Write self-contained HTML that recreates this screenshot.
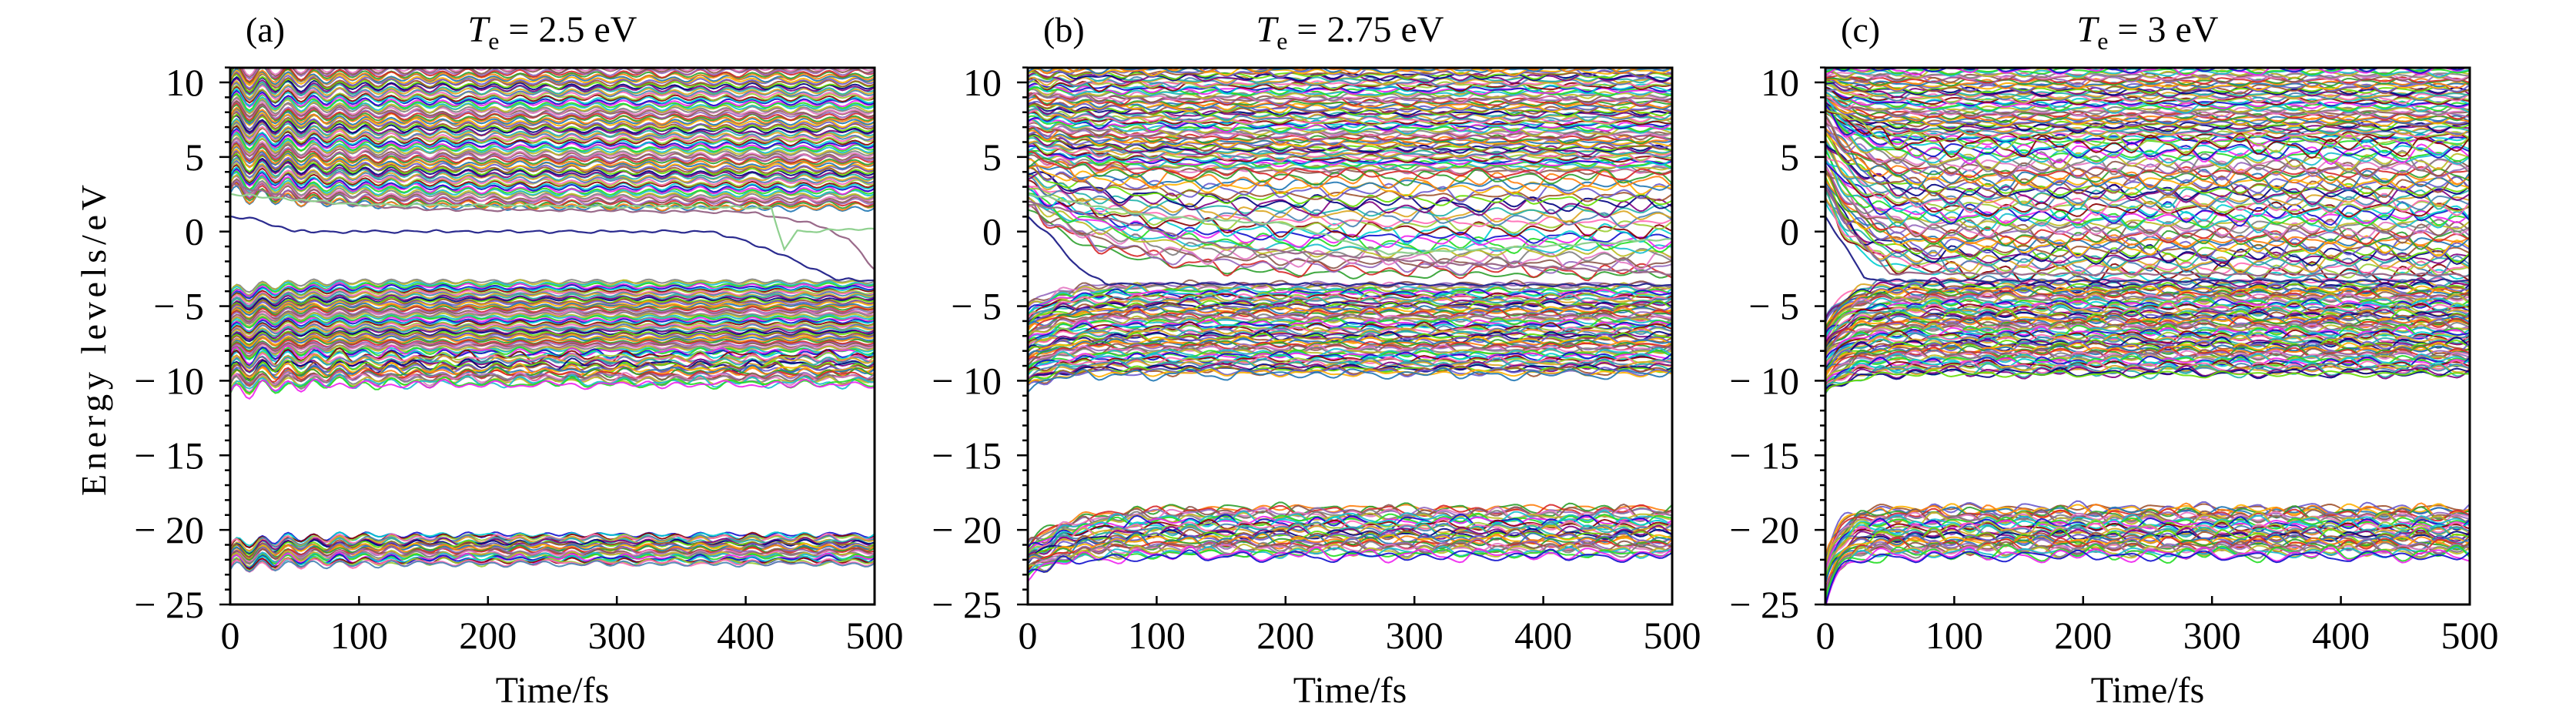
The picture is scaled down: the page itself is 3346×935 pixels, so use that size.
<!DOCTYPE html>
<html><head><meta charset="utf-8"><style>
body{margin:0;background:#fff}svg{display:block}
text{font-family:"Liberation Serif",serif;fill:#000}
</style></head><body>
<svg id="fig" width="3346" height="935" viewBox="0 0 3346 935" xmlns="http://www.w3.org/2000/svg"></svg>
<script>
// ---- data ----
const panelLabels = ["(a)","(b)","(c)"];
const panelTemps = ["2.5","2.75","3"];
const xTicks = [0,100,200,300,400,500];
const yTicks = [10,5,0,-5,-10,-15,-20,-25];
// bands: [finalLo, finalHi, startLo, startHi, count, tau, noiseAmp, oscAmp]
const bandsA = [[1.5,11,2.5,11,85,80,0.12,0.45],[-3.3,-8,-4,-8.5,55,30,0.1,0.3],[-8,-10.3,-8.3,-10.8,28,30,0.3,0.4],[-20.3,-22.3,-21,-22.6,32,40,0.2,0.35]];
const bandsB = [[4,11,5,11,75,40,0.3,0.15],[-3,4,1.5,5,28,60,0.6,0.1],[-3.5,-9.6,-5,-10.5,75,20,0.35,0.1],[-18.5,-21.8,-21,-23,38,30,0.5,0.1]];
const bandsC = [[6,11,8,11,55,20,0.35,0.05],[-3,6,2,9,55,25,0.7,0.05],[-3.3,-9.6,-6,-11,85,15,0.45,0.05],[-18.5,-21.8,-22,-25,42,10,0.55,0.05]];
const specialA = [[[0,1],[20,0.8],[50,0],[370,0],[400,-0.6],[440,-2],[470,-3.2],[500,-3.3]],[[0,3.2],[60,2],[150,1.5],[400,1.3],[450,0.6],[480,-0.5],[500,-2.5]],[[0,2.5],[100,1.8],[420,1.6],[430,-1.2],[440,0],[500,0.2]]];
const specialB = [[[0,1],[20,-0.5],[40,-2.5],[60,-3.5],[500,-3.6]],[[0,2],[80,0.5],[150,-1],[300,-2],[500,-2.8]],[[0,2.5],[100,1],[200,0.5],[280,-1.5],[500,-0.5]]];
const specialC = [[[0,1],[15,-1],[30,-3],[40,-3.3],[500,-3.3]],[[0,3],[20,0],[50,-2.8],[500,-2.9]]];
const noise = [0.2,-0.5,0.8,0.1,-0.7,0.4,-0.2,0.9,-0.6,0.3,0.0,-0.9,0.5,-0.3,0.7,-0.1,-0.8,0.6,0.2,-0.4,0.9,-0.5,0.1,0.4,-0.7,0.3,-0.2,0.8,-0.6,0.0,0.5,-0.9,0.2,0.6,-0.3,-0.8,0.7,-0.1,0.4,-0.5];
const wave = [0,0.7,1,0.7,0,-0.7,-1,-0.7];
const palette = ['#1f77b4','#ff7f0e','#2ca02c','#d62728','#9467bd','#8c564b','#e377c2','#7f7f7f','#bcbd22','#17becf','#22dd22','#ee22ee','#1010cd','#00ced1','#8b0000','#9acd32','#ff69b4','#4682b4','#daa520','#20b2aa','#800080','#000080','#66dd00','#a0522d','#6a5acd','#ffb000'];

const NS="http://www.w3.org/2000/svg";
const svg=document.getElementById('fig');
function mk(tag,attrs,parent){const e=document.createElementNS(NS,tag);for(const k in attrs)e.setAttribute(k,attrs[k]);(parent||svg).appendChild(e);return e;}
const L0=299,W=837,PITCH=1036,TOP=88,BOT=785;
function xs(p,t){return L0+p*PITCH+t/500*W;}
function ys(v){return 107+(10-v)*(678/35);}
function nz(u){const n=noise.length;const i=Math.floor(u);const f=u-i;const a=noise[((i%n)+n)%n],b=noise[(((i+1)%n)+n)%n];const s=f*f*(3-2*f);return a+(b-a)*s;}
function interp(pts,t){for(let i=1;i<pts.length;i++){if(t<=pts[i][0]){const [t0,v0]=pts[i-1],[t1,v1]=pts[i];return v0+(v1-v0)*(t-t0)/(t1-t0);}}return pts[pts.length-1][1];}

const allBands=[bandsA,bandsB,bandsC], allSpecial=[specialA,specialB,specialC];
for(let p=0;p<3;p++){
  const g=mk('g',{});
  
  
  mk('clipPath',{id:'clip'+p},g);
  mk('rect',{x:xs(p,0),y:TOP,width:W,height:BOT-TOP},g.lastChild);
  const lines=mk('g',{'clip-path':'url(#clip'+p+')'},g);
  
  
  let ci=p*5;
  allBands[p].forEach((b,bi)=>{
    const [fl,fh,sl,sh,n,tau,na,oa]=b;
    for(let i=0;i<n;i++){
      const fr=(i+0.5)/n;const fin=fl+(fh-fl)*fr, st=sl+(sh-sl)*fr;
      const ph=(i*7+bi*13)%noise.length; const na2=na*(0.6+0.8*((i*5)%7)/7);
      let d='';
      for(let k=0;k<=200;k++){const t=k*2.5;
        const v=fin+(st-fin)*Math.exp(-t/tau)+oa*(Math.exp(-t/60)+0.35)*wave[k%8]+na2*nz(t/14+ph);
        d+=(k?'L':'M')+xs(p,t).toFixed(1)+','+ys(v).toFixed(1);}
      const path=mk('path',{d:d,fill:'none',stroke:palette[(ci++)%palette.length],'stroke-width':2,'stroke-opacity':0.9},lines);
      
      
    }
  });
  allSpecial[p].forEach((pts,si)=>{
    let d='';for(let k=0;k<=200;k++){const t=k*2.5;const v=interp(pts,t)+0.12*nz(t/8+si*9);d+=(k?'L':'M')+xs(p,t).toFixed(1)+','+ys(v).toFixed(1);}
    const path=mk('path',{d:d,fill:'none',stroke:['#2b2b8f','#9a6a8a','#8fd08f'][si%3],'stroke-width':2.2},lines);
    
    
  });
  const frame=mk('rect',{x:xs(p,0),y:TOP,width:W,height:BOT-TOP,fill:'none',stroke:'#000','stroke-width':3},g);
  
  
  for(let v=-25;v<=11;v++){
    const major=(v%5===0);const y=ys(v);
    const tk=mk('line',{x1:xs(p,0),x2:xs(p,0)-(major?14:7),y1:y,y2:y,stroke:'#000','stroke-width':2.5},g);
    
    
  }
  yTicks.forEach(v=>{
    const t=mk('text',{x:xs(p,0)-34,y:ys(v)+17,'font-size':50,'text-anchor':'end'},g);
    t.textContent=(v<0?'\u2212 ':'')+Math.abs(v);
    
    
  });
  xTicks.forEach(v=>{
    const x=xs(p,v);
    const tk=mk('line',{x1:x,x2:x,y1:BOT,y2:BOT-11,stroke:'#000','stroke-width':2.5},g);
    
    
    const t=mk('text',{x:x,y:842,'font-size':50,'text-anchor':'middle'},g);
    t.textContent=v;
    
    
  });
  const xl=mk('text',{x:xs(p,250),y:912,'font-size':48,'text-anchor':'middle'},g);
  xl.textContent='Time/fs';
  
  
  const pl=mk('text',{x:xs(p,0)+20,y:54,'font-size':46},g);
  pl.textContent=panelLabels[p];
  
  
  const tt=mk('text',{x:xs(p,250),y:54,'font-size':48,'text-anchor':'middle'},g);
  tt.innerHTML='<tspan font-style="italic">T</tspan><tspan font-size="32" dy="10">e</tspan><tspan dy="-10"> = '+panelTemps[p]+' eV</tspan>';
  
  
}
const yl=mk('text',{x:0,y:0,'font-size':46,'text-anchor':'middle',transform:'translate(137,442) rotate(-90)',textLength:404,lengthAdjust:'spacing'});
yl.textContent='Energy levels/eV';


</script>
</body></html>
